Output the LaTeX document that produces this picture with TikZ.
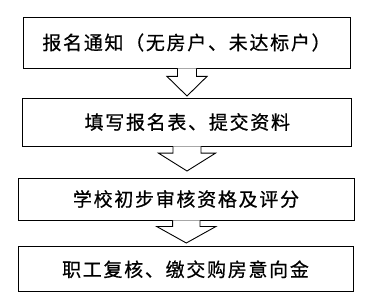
\documentclass[tikz,border=0pt]{standalone}
\usepackage{fontspec}
\newfontfamily\cjk[LetterSpace=9,FakeBold=0.6]{Noto Sans CJK SC}
\usetikzlibrary{calc}
\tikzset{
  flowbox/.style={draw=black, line width=0.9pt, rectangle, inner sep=0pt, font=\cjk\fontsize{19}{22}\selectfont, fill=white},
  barrow/.style={draw=black, line width=0.9pt, fill=white, line join=miter}
}
\newcommand{\lowtxt}[1]{\raisebox{-3pt}{#1}}
\begin{document}
\begin{tikzpicture}[x=1pt,y=-1pt]
\useasboundingbox (0,0) rectangle (387,307);
\node[flowbox, minimum width=327pt, minimum height=51pt] (b1) at (186.5,42.5) {\lowtxt{报名通知（无房户、未达标户）}};
\node[flowbox, minimum width=329pt, minimum height=48pt] (b2) at (187.3,122) {\lowtxt{填写报名表、提交资料}};
\node[flowbox, minimum width=336pt, minimum height=42pt] (b3) at (186,199) {\lowtxt{学校初步审核资格及评分}};
\node[flowbox, minimum width=335pt, minimum height=45pt] (b4) at (185.5,269.3) {\lowtxt{职工复核、缴交购房意向金}};
\coordinate (t1) at (187,96);
\coordinate (t2) at (187,171);
\coordinate (t3) at (186.3,243);
\draw[barrow] ($(b1.south -| t1)+(-9.5,0)$) -- ++(0,8) -- ++(-10.5,0) -- (t1) -- ($(b1.south -| t1)+(20,8)$) -- ++(-10.5,0) -- ++(0,-8);
\draw[barrow] ($(b2.south -| t2)+(-14,0)$) -- ++(0,6.7) -- ++(-14.5,0) -- (t2) -- ($(b2.south -| t2)+(28.5,6.7)$) -- ++(-14.5,0) -- ++(0,-6.7);
\draw[barrow] ($(b3.south -| t3)+(-13.7,0)$) -- ++(0,6) -- ++(-16,0) -- (t3) -- ($(b3.south -| t3)+(29.7,6)$) -- ++(-16,0) -- ++(0,-6);
\end{tikzpicture}
\end{document}
